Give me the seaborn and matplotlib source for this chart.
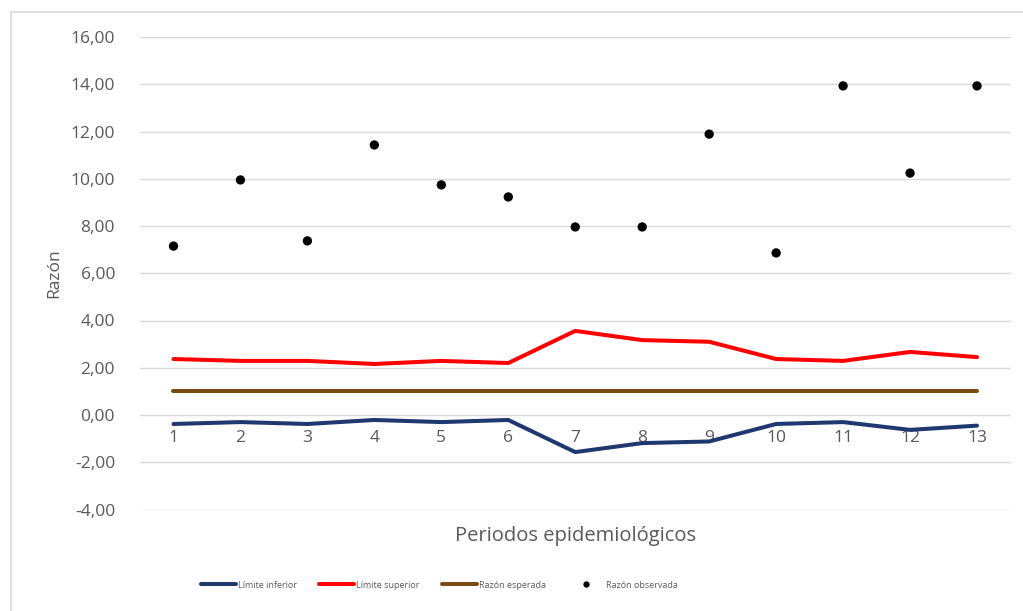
import matplotlib
matplotlib.use("Agg")
import matplotlib.pyplot as plt
import matplotlib.ticker as mticker
from matplotlib.patches import Rectangle
from matplotlib.lines import Line2D
import seaborn as sns
import pandas as pd

periods = list(range(1, 14))
limite_inferior = [-0.38, -0.30, -0.38, -0.21, -0.30, -0.21, -1.57, -1.19, -1.12, -0.38, -0.30, -0.63, -0.45]
limite_superior = [2.37, 2.29, 2.29, 2.16, 2.29, 2.20, 3.56, 3.17, 3.10, 2.37, 2.29, 2.67, 2.45]
razon_esperada = [1.00] * 13
razon_observada = [7.15, 9.95, 7.37, 11.43, 9.74, 9.23, 7.96, 7.96, 11.89, 6.86, 13.93, 10.24, 13.93]

labels = ["Límite inferior", "Límite superior", "Razón esperada", "Razón observada"]
colors = ["#1F3870", "#FF0000", "#7B4A12", "#000000"]

sns.set_theme(style="white")
plt.rcParams['font.family'] = ['Open Sans', 'DejaVu Sans']

df = pd.DataFrame({
    "periodo": periods,
    "inf": limite_inferior,
    "sup": limite_superior,
    "esp": razon_esperada,
    "obs": razon_observada,
})

fig = plt.figure(figsize=(10.23, 6.11), dpi=100)
ax = fig.add_axes([140 / 1023, 1 - 509.5 / 611, (1010.5 - 140) / 1023, (509.5 - 37) / 611])

# chart border
fig.add_artist(Rectangle((11 / 1023, -0.1), 1.2, 1 - 12 / 611 + 0.1, transform=fig.transFigure,
                         fill=False, edgecolor="#D9D9D9", linewidth=1.2))

ax.set_ylim(-4, 16)
ax.set_xlim(0.5, 13.5)
ax.yaxis.set_major_locator(mticker.MultipleLocator(2))
ax.yaxis.set_major_formatter(mticker.FuncFormatter(lambda v, p: f"{v:.2f}".replace(".", ",")))
ax.set_xticks(periods)
ax.set_xticklabels([str(p) for p in periods])
ax.grid(axis="y", color="#D9D9D9", linewidth=1.0)
ax.set_axisbelow(True)

sns.lineplot(data=df, x="periodo", y="inf", ax=ax, color=colors[0], linewidth=2.9, legend=False)
sns.lineplot(data=df, x="periodo", y="sup", ax=ax, color=colors[1], linewidth=2.9, legend=False)
sns.lineplot(data=df, x="periodo", y="esp", ax=ax, color=colors[2], linewidth=2.9, legend=False)
sns.scatterplot(data=df, x="periodo", y="obs", ax=ax, color=colors[3], s=45, edgecolor="none", legend=False, zorder=5)

for s in ["top", "right", "left", "bottom"]:
    ax.spines[s].set_visible(False)
ax.spines["bottom"].set_position(("data", 0))
ax.tick_params(axis="both", length=0, colors="#595959", labelsize=12.5)
ax.tick_params(axis="x", pad=11)
ax.tick_params(axis="y", pad=18)

ax.set_ylabel("Razón", fontsize=12.5, color="#595959", labelpad=6)
ax.set_xlabel("")
ax.text(0.5, -0.035, "Periodos epidemiológicos", transform=ax.transAxes, ha="center", va="top",
        fontsize=14.5, color="#595959")

handles = [
    Line2D([], [], color=colors[0], linewidth=2.9, solid_capstyle="round"),
    Line2D([], [], color=colors[1], linewidth=2.9, solid_capstyle="round"),
    Line2D([], [], color=colors[2], linewidth=2.9, solid_capstyle="round"),
    Line2D([], [], color=colors[3], linestyle="none", marker="o", markersize=3.5),
]
leg = fig.legend(handles, labels, loc="center", bbox_to_anchor=(439 / 1023, 1 - 585 / 611), ncol=4,
                 frameon=False, fontsize=6.5, handlelength=3.9, handletextpad=0.2, columnspacing=2.5)
for t in leg.get_texts():
    t.set_color("#595959")

fig.savefig("out.png", dpi=100)
